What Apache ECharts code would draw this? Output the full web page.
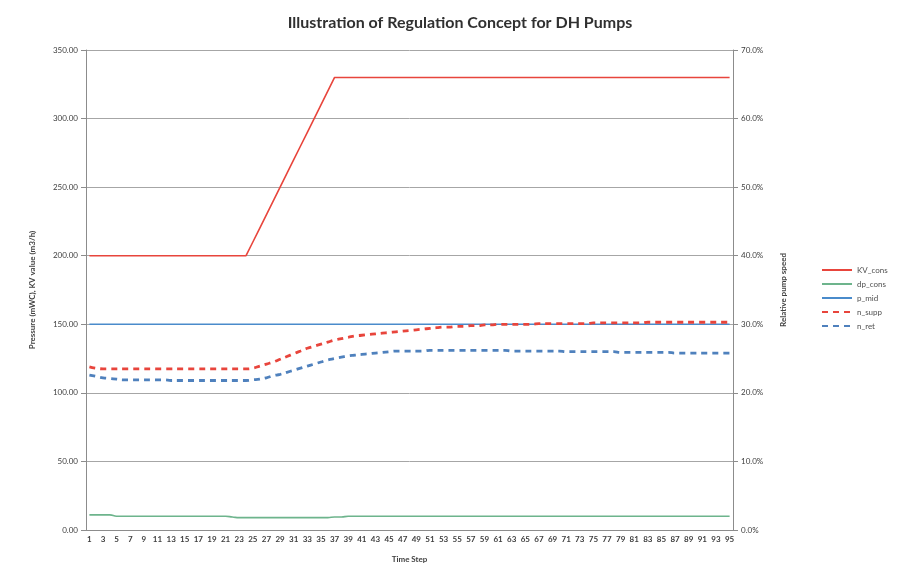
<!DOCTYPE html>
<html>
<head>
<meta charset="utf-8">
<script src="https://cdn.jsdelivr.net/npm/echarts@6/dist/echarts.min.js"></script>
<style>html,body{margin:0;padding:0;background:#fff;}#c{width:898px;height:574px;}</style>
</head>
<body>
<div id="c"></div>
<script>
const categories = [1,2,3,4,5,6,7,8,9,10,11,12,13,14,15,16,17,18,19,20,21,22,23,24,25,26,27,28,29,30,31,32,33,34,35,36,37,38,39,40,41,42,43,44,45,46,47,48,49,50,51,52,53,54,55,56,57,58,59,60,61,62,63,64,65,66,67,68,69,70,71,72,73,74,75,76,77,78,79,80,81,82,83,84,85,86,87,88,89,90,91,92,93,94,95];

const kvCons = [
200,200,200,200,200,200,200,200,200,200,
200,200,200,200,200,200,200,200,200,200,
200,200,200,200,210,220,230,240,250,260,
270,280,290,300,310,320,330,330,330,330,
330,330,330,330,330,330,330,330,330,330,
330,330,330,330,330,330,330,330,330,330,
330,330,330,330,330,330,330,330,330,330,
330,330,330,330,330,330,330,330,330,330,
330,330,330,330,330,330,330,330,330,330,
330,330,330,330,330];

const dpCons = [
11,11,11,11,10,10,10,10,10,10,
10,10,10,10,10,10,10,10,10,10,
10,9.5,9,9,9,9,9,9,9,9,
9,9,9,9,9,9,9.5,9.5,10,10,
10,10,10,10,10,10,10,10,10,10,
10,10,10,10,10,10,10,10,10,10,
10,10,10,10,10,10,10,10,10,10,
10,10,10,10,10,10,10,10,10,10,
10,10,10,10,10,10,10,10,10,10,
10,10,10,10,10];

const pMid = [
150,150,150,150,150,150,150,150,150,150,
150,150,150,150,150,150,150,150,150,150,
150,150,150,150,150,150,150,150,150,150,
150,150,150,150,150,150,150,150,150,150,
150,150,150,150,150,150,150,150,150,150,
150,150,150,150,150,150,150,150,150,150,
150,150,150,150,150,150,150,150,150,150,
150,150,150,150,150,150,150,150,150,150,
150,150,150,150,150,150,150,150,150,150,
150,150,150,150,150];

const nSupp = [
23.8,23.6,23.5,23.5,23.5,23.5,23.5,23.5,23.5,23.5,
23.5,23.5,23.5,23.5,23.5,23.5,23.5,23.5,23.5,23.5,
23.5,23.5,23.5,23.5,23.6,23.9,24.2,24.5,24.9,25.3,
25.7,26.1,26.5,26.8,27.1,27.4,27.7,27.9,28.1,28.3,
28.4,28.5,28.6,28.7,28.8,28.9,29.0,29.1,29.2,29.3,
29.4,29.5,29.6,29.6,29.7,29.7,29.8,29.8,29.9,29.9,
30.0,30.0,30.0,30.0,30.0,30.0,30.1,30.1,30.1,30.1,
30.1,30.1,30.1,30.1,30.2,30.2,30.2,30.2,30.2,30.2,
30.2,30.2,30.3,30.3,30.3,30.3,30.3,30.3,30.3,30.3,
30.3,30.3,30.3,30.3,30.3];

const nRet = [
22.6,22.4,22.2,22.1,22.0,21.9,21.9,21.9,21.9,21.9,
21.9,21.9,21.8,21.8,21.8,21.8,21.8,21.8,21.8,21.8,
21.8,21.8,21.8,21.8,21.9,22.0,22.2,22.5,22.7,23.0,
23.3,23.6,23.9,24.2,24.5,24.8,25.0,25.2,25.4,25.5,
25.6,25.7,25.8,25.9,26.0,26.1,26.1,26.1,26.1,26.1,
26.2,26.2,26.2,26.2,26.2,26.2,26.2,26.2,26.2,26.2,
26.2,26.2,26.1,26.1,26.1,26.1,26.1,26.1,26.1,26.1,
26.0,26.0,26.0,26.0,26.0,26.0,26.0,26.0,25.9,25.9,
25.9,25.9,25.9,25.9,25.9,25.9,25.8,25.8,25.8,25.8,
25.8,25.8,25.8,25.8,25.8];

const seriesNames = ['KV_cons','dp_cons','p_mid','n_supp','n_ret'];

const RED = '#E8453C', GREEN = '#6DB48C', BLUE = '#4A8BCB', BLUE2 = '#4F81BD';
const txt = '#404040', axisCol = '#8c8c8c', font = 'Lato';

const chart = echarts.init(document.getElementById('c'));
chart.setOption({
  backgroundColor: '#fff',
  animation: false,
  textStyle: {fontFamily: font},
  title: {
    text: 'Illustration of Regulation Concept for DH Pumps',
    left: 455, textAlign: 'center', top: 10,
    textStyle: {fontSize: 16, fontWeight: 'bold', color: '#303030', fontFamily: font}
  },
  grid: {left: 86, right: 165, top: 50, bottom: 44},
  legend: {
    orient: 'vertical', left: 816, top: 261,
    itemWidth: 30, itemHeight: 8, itemGap: 6,
    itemStyle: {opacity: 0},
    textStyle: {fontSize: 8, color: '#505050', fontFamily: font},
    data: seriesNames
  },
  xAxis: {
    type: 'category', data: categories, boundaryGap: true,
    name: 'Time Step', nameLocation: 'middle', nameGap: 25,
    nameTextStyle: {fontSize: 8, fontWeight: 'bold', color: txt},
    axisLine: {lineStyle: {color: axisCol}},
    axisTick: {interval: 0, lineStyle: {color: axisCol}, length: 4},
    axisLabel: {interval: 1, fontSize: 8, color: txt, margin: 5, fontWeight: 'bold'}
  },
  yAxis: [{
    type: 'value', min: 0, max: 350, interval: 50,
    name: 'Pressure (mWC), KV value (m3/h)', nameLocation: 'middle', nameGap: 50, nameRotate: 90,
    nameTextStyle: {fontSize: 8, fontWeight: 'bold', color: txt},
    axisLine: {show: true, lineStyle: {color: axisCol}},
    axisTick: {show: true, length: 5, lineStyle: {color: axisCol}},
    axisLabel: {fontSize: 8, color: txt, formatter: v => v.toFixed(2), margin: 8},
    splitLine: {lineStyle: {color: '#a6a6a6', width: 1}}
  }, {
    type: 'value', min: 0, max: 70, interval: 10, position: 'right',
    name: 'Relative pump speed', nameLocation: 'middle', nameGap: 46, nameRotate: 90,
    nameTextStyle: {fontSize: 8, fontWeight: 'bold', color: txt},
    axisLine: {show: true, lineStyle: {color: axisCol}},
    axisTick: {show: true, length: 5, lineStyle: {color: axisCol}},
    axisLabel: {fontSize: 8, color: txt, formatter: v => v.toFixed(1) + '%', margin: 8},
    splitLine: {show: false}
  }],
  series: [
    {name: 'KV_cons', type: 'line', data: kvCons, yAxisIndex: 0, symbol: 'none', color: RED,
     lineStyle: {color: RED, width: 1.6}},
    {name: 'dp_cons', type: 'line', data: dpCons, yAxisIndex: 0, symbol: 'none', color: GREEN, smooth: true,
     lineStyle: {color: GREEN, width: 1.6}},
    {name: 'p_mid', type: 'line', data: pMid, yAxisIndex: 0, symbol: 'none', color: BLUE,
     lineStyle: {color: BLUE, width: 1.6}},
    {name: 'n_supp', type: 'line', data: nSupp, yAxisIndex: 1, symbol: 'none', color: RED, smooth: true,
     lineStyle: {color: RED, width: 2.8, type: [6, 5]}},
    {name: 'n_ret', type: 'line', data: nRet, yAxisIndex: 1, symbol: 'none', color: BLUE2, smooth: true,
     lineStyle: {color: BLUE2, width: 2.8, type: [6, 5]}}
  ]
});
</script>
</body>
</html>
